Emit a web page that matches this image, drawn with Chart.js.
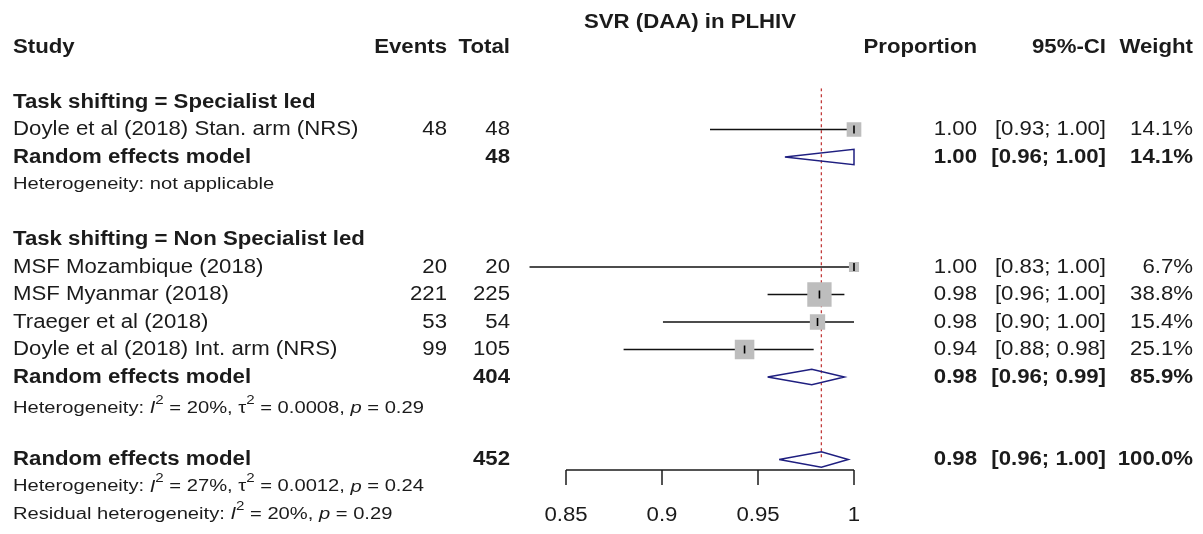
<!DOCTYPE html>
<html>
<head>
<meta charset="utf-8">
<script src="https://cdn.jsdelivr.net/npm/chart.js@4.4.1/dist/chart.umd.min.js"></script>
<style>
  html, body { margin: 0; padding: 0; background: #fff; }
  canvas { display: block; }
</style>
</head>
<body>
<canvas id="forest" width="1203" height="534"></canvas>
<script>
  // ---- data ----
  const chartTitle = 'SVR (DAA) in PLHIV';
  const groupLabels = ['Task shifting = Specialist led', 'Task shifting = Non Specialist led'];
  const groupRows = [2, 7];

  const studies = [
    'Doyle et al (2018) Stan. arm (NRS)',
    'MSF Mozambique (2018)',
    'MSF Myanmar (2018)',
    'Traeger et al (2018)',
    'Doyle et al (2018) Int. arm (NRS)'
  ];
  const studyRows = [3, 8, 9, 10, 11];
  const events = [48, 20, 221, 53, 99];
  const totals = [48, 20, 225, 54, 105];
  const estimates = [1.0, 1.0, 0.982, 0.981, 0.943];
  const lowerCI = [0.925, 0.831, 0.955, 0.9005, 0.880];
  const upperCI = [1.0, 1.0, 0.995, 1.0, 0.979];
  const weights = [14.1, 6.7, 38.8, 15.4, 25.1];
  const propText = ['1.00', '1.00', '0.98', '0.98', '0.94'];
  const ciText = ['[0.93; 1.00]', '[0.83; 1.00]', '[0.96; 1.00]', '[0.90; 1.00]', '[0.88; 0.98]'];
  const weightText = ['14.1%', '6.7%', '38.8%', '15.4%', '25.1%'];

  const poolLabel = 'Random effects model';
  const poolRows = [4, 12, 15];
  const poolTotals = [48, 404, 452];
  const poolEst = [1.0, 0.978, 0.983];
  const poolLower = [0.964, 0.955, 0.961];
  const poolUpper = [1.0, 0.995, 0.997];
  const poolPropText = ['1.00', '0.98', '0.98'];
  const poolCiText = ['[0.96; 1.00]', '[0.96; 0.99]', '[0.96; 1.00]'];
  const poolWeightText = ['14.1%', '85.9%', '100.0%'];

  const refValue = 0.983;
  const xTicks = [0.85, 0.9, 0.95, 1];
  const xTickLabels = ['0.85', '0.9', '0.95', '1'];

  // heterogeneity lines: [text, style] pieces, n = normal, i = italic, s = superscript
  const hetRows = [5, 13.15, 16, 17];
  const hetLines = [
    [['Heterogeneity: not applicable', 'n']],
    [['Heterogeneity: ', 'n'], ['I', 'i'], ['2', 's'], [' = 20%, ', 'n'], ['\u03c4', 'n'], ['2', 's'], [' = 0.0008, ', 'n'], ['p', 'i'], [' = 0.29', 'n']],
    [['Heterogeneity: ', 'n'], ['I', 'i'], ['2', 's'], [' = 27%, ', 'n'], ['\u03c4', 'n'], ['2', 's'], [' = 0.0012, ', 'n'], ['p', 'i'], [' = 0.24', 'n']],
    [['Residual heterogeneity: ', 'n'], ['I', 'i'], ['2', 's'], [' = 20%, ', 'n'], ['p', 'i'], [' = 0.29', 'n']]
  ];

  // ---- look ----
  const FAMILY = '"Liberation Sans", Arial, sans-serif';
  const MAIN = 20, HET = 16, SX = 1.11, HET_SX = 1.26;
  const INK = '#1b1b1b';
  const DIAMOND = '#1f1f80';

  function drawText(ctx, s, x, y, font, align, sx) {
    ctx.save();
    ctx.font = font;
    ctx.textAlign = align;
    ctx.textBaseline = 'middle';
    ctx.fillStyle = INK;
    ctx.translate(x, y);
    ctx.scale(sx, 1);
    ctx.fillText(s, 0, 0);
    ctx.restore();
  }

  function drawRich(ctx, parts, x, y) {
    let cx = x;
    parts.forEach(([s, st]) => {
      let font = HET + 'px ' + FAMILY, dy = 0;
      if (st === 'i') font = 'italic ' + font;
      if (st === 's') { font = Math.round(HET * 0.72) + 'px ' + FAMILY; dy = -HET * 0.5; }
      ctx.save();
      ctx.font = font;
      const w = ctx.measureText(s).width * HET_SX;
      ctx.restore();
      drawText(ctx, s, cx, y + dy, font, 'left', HET_SX);
      cx += w;
    });
  }

  const forestText = {
    id: 'forestText',
    afterDraw(chart) {
      const ctx = chart.ctx;
      const xs = chart.scales.x, ys = chart.scales.y;
      const reg = MAIN + 'px ' + FAMILY, bold = 'bold ' + MAIN + 'px ' + FAMILY;
      const colEvents = 447, colTotal = 510, colProp = 977, colCi = 1106, colWeight = 1193, colStudy = 13;

      drawText(ctx, chartTitle, 690, 22, bold, 'center', SX);
      const yh = ys.getPixelForValue(0);
      drawText(ctx, 'Study', colStudy, yh, bold, 'left', SX);
      drawText(ctx, 'Events', colEvents, yh, bold, 'right', SX);
      drawText(ctx, 'Total', colTotal, yh, bold, 'right', SX);
      drawText(ctx, 'Proportion', colProp, yh, bold, 'right', SX);
      drawText(ctx, '95%-CI', colCi, yh, bold, 'right', SX);
      drawText(ctx, 'Weight', colWeight, yh, bold, 'right', SX);

      groupLabels.forEach((g, i) => drawText(ctx, g, colStudy, ys.getPixelForValue(groupRows[i]), bold, 'left', SX));

      studies.forEach((s, i) => {
        const y = ys.getPixelForValue(studyRows[i]);
        drawText(ctx, s, colStudy, y, reg, 'left', SX);
        drawText(ctx, String(events[i]), colEvents, y, reg, 'right', SX);
        drawText(ctx, String(totals[i]), colTotal, y, reg, 'right', SX);
        drawText(ctx, propText[i], colProp, y, reg, 'right', SX);
        drawText(ctx, ciText[i], colCi, y, reg, 'right', SX);
        drawText(ctx, weightText[i], colWeight, y, reg, 'right', SX);
      });

      poolRows.forEach((r, i) => {
        const y = ys.getPixelForValue(r);
        drawText(ctx, poolLabel, colStudy, y, bold, 'left', SX);
        drawText(ctx, String(poolTotals[i]), colTotal, y, bold, 'right', SX);
        drawText(ctx, poolPropText[i], colProp, y, bold, 'right', SX);
        drawText(ctx, poolCiText[i], colCi, y, bold, 'right', SX);
        drawText(ctx, poolWeightText[i], colWeight, y, bold, 'right', SX);
      });

      hetLines.forEach((parts, i) => drawRich(ctx, parts, colStudy, ys.getPixelForValue(hetRows[i])));

      // x axis under the plot, ticks pointing down
      const yAxis = chart.chartArea.bottom;
      const x0 = xs.getPixelForValue(xTicks[0]);
      const x1 = xs.getPixelForValue(xTicks[xTicks.length - 1]);
      ctx.save();
      ctx.strokeStyle = INK;
      ctx.lineWidth = 1.5;
      ctx.beginPath();
      ctx.moveTo(x0, yAxis);
      ctx.lineTo(x1, yAxis);
      xTicks.forEach(t => {
        const px = xs.getPixelForValue(t);
        ctx.moveTo(px, yAxis);
        ctx.lineTo(px, yAxis + 15);
      });
      ctx.stroke();
      ctx.restore();
      xTicks.forEach((t, i) => drawText(ctx, xTickLabels[i], xs.getPixelForValue(t), 515, reg, 'center', SX));
    }
  };

  const ciLines = studies.map((s, i) => ({
    type: 'line',
    data: [{ x: lowerCI[i], y: studyRows[i] }, { x: upperCI[i], y: studyRows[i] }],
    borderColor: '#111',
    borderWidth: 1.6,
    pointRadius: 0,
    order: 2
  }));

  const studyPoints = estimates.map((v, i) => ({ x: v, y: studyRows[i] }));

  const diamonds = poolRows.map((r, i) => ({
    type: 'line',
    data: [
      { x: poolLower[i], y: r },
      { x: poolEst[i], y: r - 0.28 },
      { x: poolUpper[i], y: r },
      { x: poolEst[i], y: r + 0.28 },
      { x: poolLower[i], y: r }
    ],
    borderColor: DIAMOND,
    borderWidth: 1.5,
    pointRadius: 0,
    tension: 0,
    order: 1
  }));

  new Chart(document.getElementById('forest').getContext('2d'), {
    type: 'scatter',
    data: {
      datasets: [
        {
          type: 'scatter',
          data: studyPoints,
          pointStyle: 'line',
          rotation: 90,
          pointRadius: 4,
          borderColor: '#000',
          borderWidth: 1.6,
          order: 0
        },
        {
          type: 'scatter',
          data: studyPoints,
          pointStyle: 'rect',
          pointRadius: weights.map(w => 2.76 * Math.sqrt(w)),
          backgroundColor: '#bdbdbd',
          borderWidth: 0,
          order: 1
        },
        ...diamonds,
        ...ciLines,
        {
          type: 'line',
          data: [{ x: refValue, y: 1.5 }, { x: refValue, y: 15 }],
          borderColor: '#c23b3b',
          borderDash: [3, 3],
          borderWidth: 1.3,
          pointRadius: 0,
          order: 3
        }
      ]
    },
    options: {
      responsive: false,
      animation: false,
      events: [],
      layout: { padding: { left: 508.4, right: 329.8, top: 88.25, bottom: 64 } },
      scales: {
        x: { type: 'linear', min: 0.82, max: 1.01, display: false },
        y: { type: 'linear', min: 1.5, max: 15.38, reverse: true, display: false }
      },
      plugins: { legend: { display: false }, tooltip: { enabled: false } }
    },
    plugins: [forestText]
  });
</script>
</body>
</html>
